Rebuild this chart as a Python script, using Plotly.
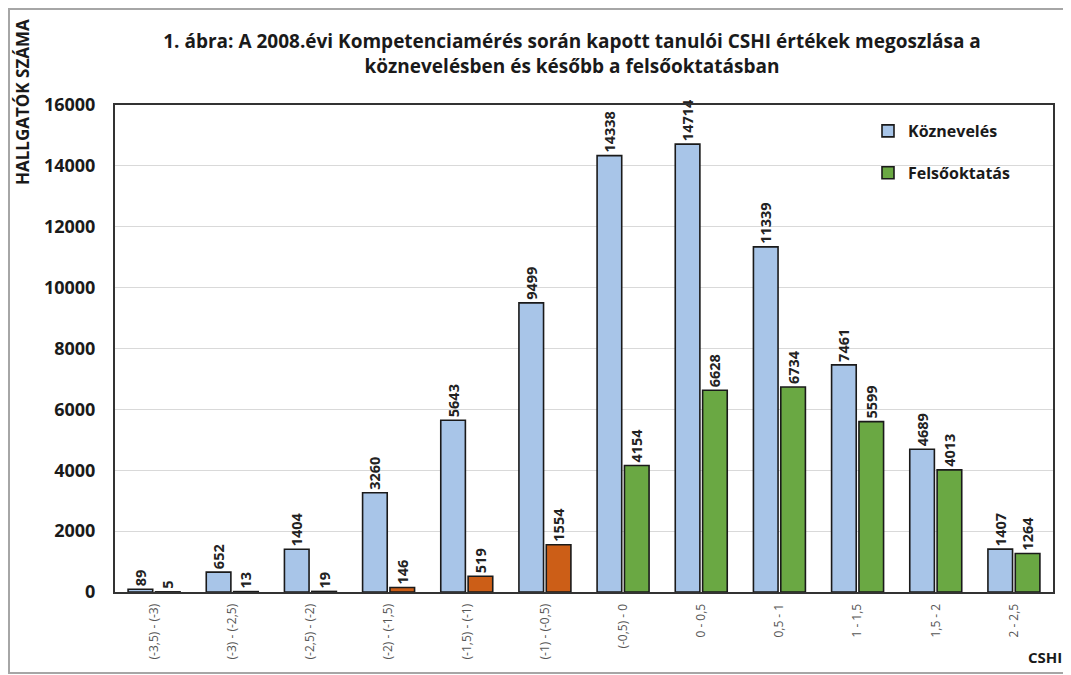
import plotly.graph_objects as go

categories = ["(-3,5) - (-3)", "(-3) - (-2,5)", "(-2,5) - (-2)", "(-2) - (-1,5)",
              "(-1,5) - (-1)", "(-1) - (-0,5)", "(-0,5) - 0", "0 - 0,5",
              "0,5 - 1", "1 - 1,5", "1,5 - 2", "2 - 2,5"]
kozneveles = [89, 652, 1404, 3260, 5643, 9499, 14338, 14714, 11339, 7461, 4689, 1407]
felsooktatas = [5, 13, 19, 146, 519, 1554, 4154, 6628, 6734, 5599, 4013, 1264]
# first six higher-education bars are drawn in orange, the rest in green
orange_count = 6

BLUE = "#a8c5e8"
GREEN = "#6aa843"
ORANGE = "#cc5e17"
FONT = "Open Sans"

W, H = 1063, 667
L, R, T, B = 107, 18, 97, 83
PW, PH = W - L - R, H - T - B

def px(x):  # figure pixel x -> paper
    return (x - L) / PW

def py(y):  # figure pixel y -> paper
    return (H - B - y) / PH

felso_orange = [v if i < orange_count else None for i, v in enumerate(felsooktatas)]
felso_green = [v if i >= orange_count else None for i, v in enumerate(felsooktatas)]

def labels(vals):
    return [str(v) if v is not None else "" for v in vals]

common = dict(textposition="outside", textangle=-90, cliponaxis=False, constraintext="none",
              textfont=dict(family=FONT, size=14.5, color="#222222", weight="bold"),
              marker_line=dict(color="#1a1a1a", width=1.6))

fig = go.Figure()
fig.add_trace(go.Bar(x=categories, y=kozneveles, name="Köznevelés", text=labels(kozneveles),
                     marker_color=BLUE, offsetgroup="k", legendgroup="k", **common))
fig.add_trace(go.Bar(x=categories, y=felso_orange, name="Felsőoktatás", text=labels(felso_orange),
                     marker_color=ORANGE, offsetgroup="f", legendgroup="o", showlegend=False, **common))
fig.add_trace(go.Bar(x=categories, y=felso_green, name="Felsőoktatás", text=labels(felso_green),
                     marker_color=GREEN, offsetgroup="f", legendgroup="f", **common))

fig.update_layout(
    width=W, height=H,
    margin=dict(l=L, r=R, t=T, b=B),
    paper_bgcolor="white", plot_bgcolor="white",
    barmode="group", bargap=0.3, bargroupgap=0.1,
    font=dict(family=FONT, color="#222222"),
    title=dict(text="<b>1. ábra: A 2008.évi Kompetenciamérés során kapott tanulói CSHI értékek megoszlása a<br>köznevelésben és később a felsőoktatásban</b>",
               x=564 / W, xanchor="center", y=1 - 40 / H, yanchor="top",
               font=dict(family=FONT, size=19, color="#1a1a1a")),
    legend=dict(x=px(860), y=py(106), xanchor="left", yanchor="top", bgcolor="rgba(0,0,0,0)",
                font=dict(family=FONT, size=16, color="#1a1a1a", weight="bold"),
                tracegroupgap=18, itemwidth=30, traceorder="grouped"),
    showlegend=True,
)
fig.update_xaxes(type="category", tickangle=-90, tickfont=dict(family=FONT, size=12, color="#555555"),
                 showline=True, linecolor="#333333", linewidth=2, mirror=True,
                 showgrid=False, ticks="", ticklabelstandoff=5)
fig.update_yaxes(range=[0, 16000], dtick=2000, tickformat="d",
                 tickfont=dict(family=FONT, size=18, color="#1a1a1a", weight="bold"),
                 showline=True, linecolor="#333333", linewidth=2, mirror=True,
                 showgrid=True, gridcolor="#d9d9d9", gridwidth=1, zeroline=False,
                 ticks="", ticklabelstandoff=14)

fig.add_annotation(text="<b>HALLGATÓK SZÁMA</b>", textangle=-90, xref="paper", yref="paper",
                   x=px(14), y=py(94), xanchor="center", yanchor="middle", showarrow=False,
                   font=dict(family=FONT, size=17, color="#1a1a1a"))
fig.add_annotation(text="<b>CSHI</b>", xref="paper", yref="paper",
                   x=px(1037), y=py(649), xanchor="center", yanchor="middle", showarrow=False,
                   font=dict(family=FONT, size=15, color="#1a1a1a"))
fig.add_shape(type="rect", xref="paper", yref="paper",
              x0=px(1), x1=px(1058), y0=py(665), y1=py(1),
              line=dict(color="#a6a6a6", width=2))

fig.write_html("out.html")
